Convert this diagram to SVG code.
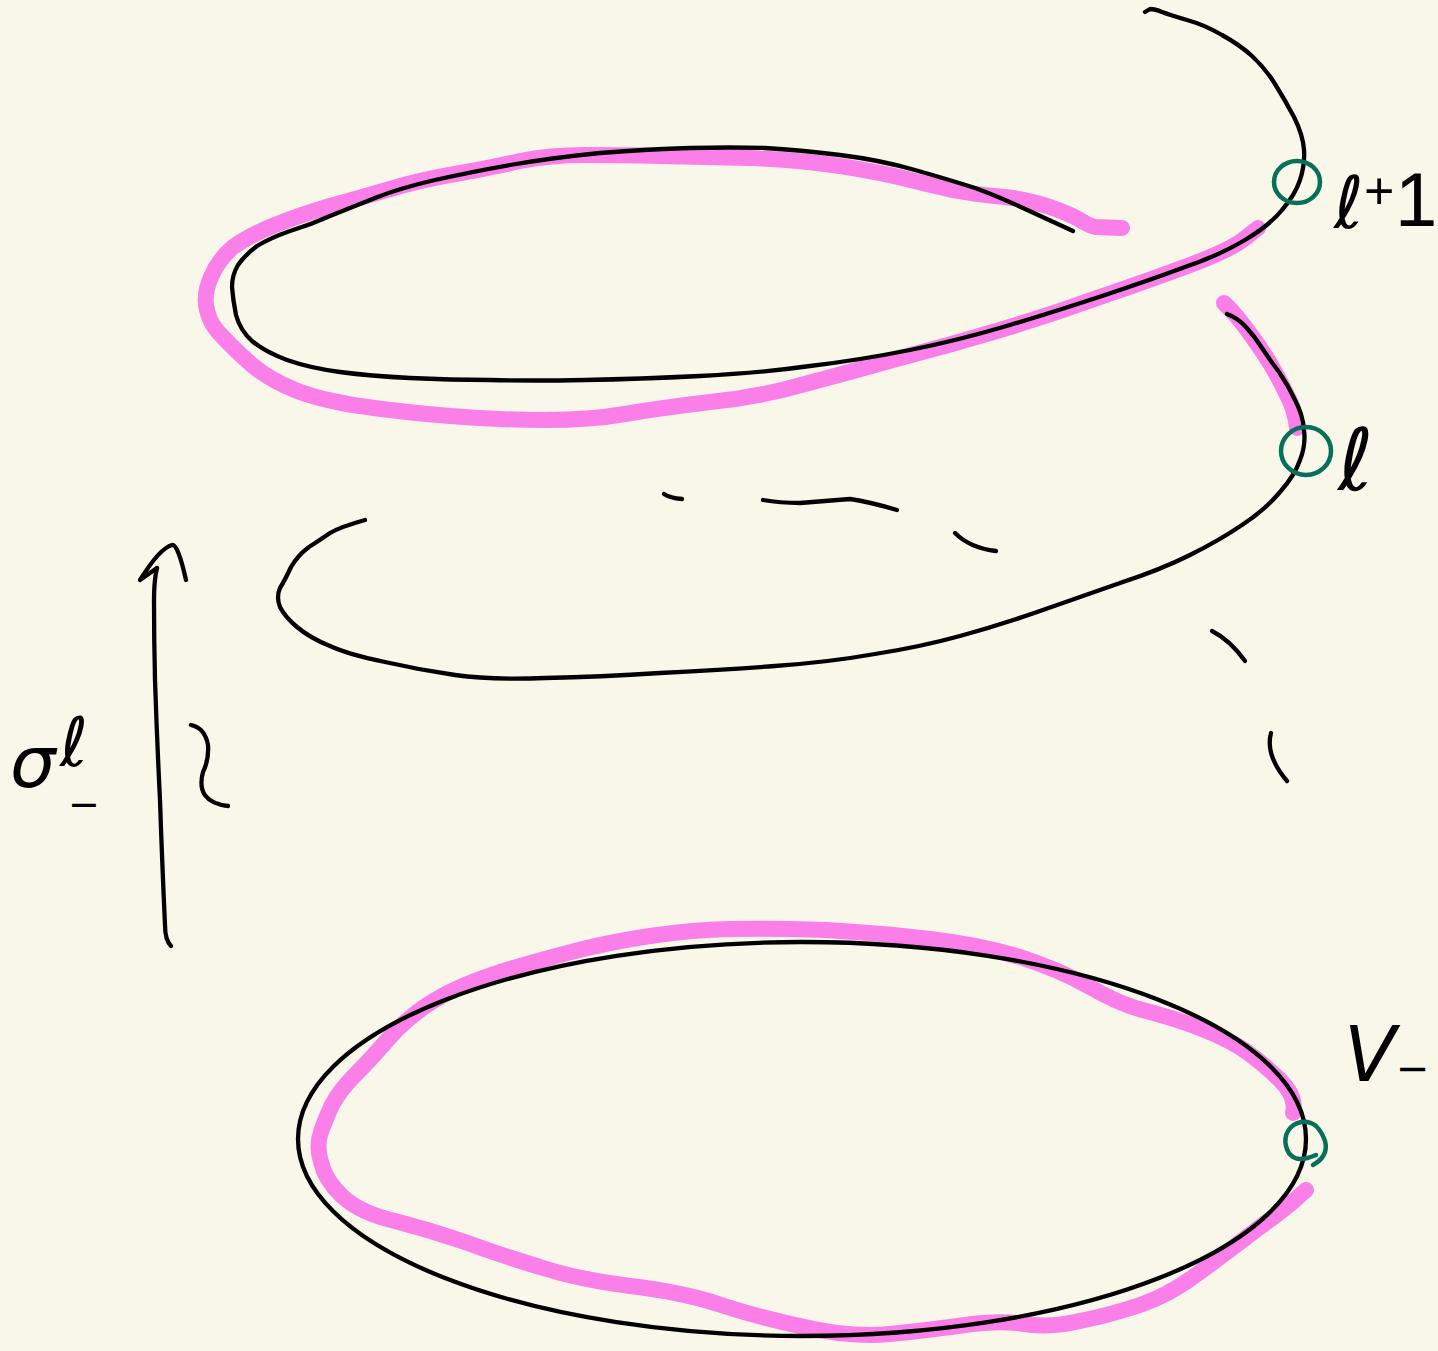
<svg xmlns="http://www.w3.org/2000/svg" width="1438" height="1351" viewBox="0 0 1438 1351">
<style>
path,ellipse{fill:none;stroke-linecap:round;stroke-linejoin:round}
.p{stroke:#fa7fe8;stroke-width:16}
.k{stroke:#000;stroke-width:4.3}
.g{stroke:#08705a;stroke-width:4.5}
text{font-family:"DejaVu Sans",sans-serif;fill:#000}
.s{font-family:"Liberation Sans",sans-serif}
</style>
<rect width="1438" height="1351" fill="#f9f7ea"/>
<g id="highlights">
<path class="p" d="M1122 228L1095 227Q1090 226 1080 220Q1070 214 1050 207Q1030 200 1005 197Q980 195 965 192Q950 190 915 181Q880 172 840 166Q800 160 750 158Q700 157 660 156Q620 155 585 155Q550 155 520 161Q490 168 455 174Q420 180 390 189Q360 198 330 206Q300 215 275 225Q250 235 233 247Q218 260 211 277Q203 295 207 310Q210 325 223 337Q235 350 252 365Q270 380 295 390Q320 400 360 406Q400 412 450 416Q500 420 545 420Q590 420 625 414Q660 408 710 402Q760 397 805 384Q850 372 900 358Q950 345 1000 330Q1050 315 1100 297Q1150 280 1190 265Q1230 250 1244 239L1258 228"/>
<path class="p" d="M1224 303L1232 311Q1240 320 1251 335Q1262 350 1271 365Q1280 380 1287 395Q1295 410 1297 428"/>
<path class="p" d="M1293 1113Q1297 1097 1280 1080Q1265 1065 1247 1052Q1230 1040 1205 1030Q1180 1020 1150 1012Q1120 1005 1090 987Q1060 970 1020 957Q980 945 930 939Q880 933 825 930Q770 928 730 929Q690 930 650 936Q610 942 575 951Q540 960 500 972Q460 985 435 1000Q410 1015 390 1037Q370 1060 355 1075Q340 1090 332 1105Q325 1120 321 1132Q316 1145 321 1162Q325 1180 342 1196Q360 1213 395 1221Q430 1230 465 1242Q500 1255 540 1267Q580 1280 630 1286Q680 1292 715 1303Q750 1315 800 1326Q850 1338 890 1334Q930 1330 965 1325Q1000 1320 1025 1324Q1050 1328 1080 1321Q1110 1315 1140 1305Q1170 1295 1200 1272Q1230 1250 1260 1227Q1290 1205 1298 1197L1306 1190"/>
</g>
<g id="curves">
<path class="k" d="M1073 231L1036 214Q1000 197 975 188Q950 180 915 170Q880 160 840 155Q800 150 765 148Q730 147 690 148Q650 149 600 153Q550 158 510 165Q470 172 435 180Q400 188 375 198Q350 208 330 216Q310 225 290 231Q270 238 257 246Q245 255 238 265Q232 275 232 287Q233 300 236 315Q240 330 252 341Q265 352 287 360Q310 368 340 372Q370 376 410 378Q450 380 490 380Q530 381 585 380Q640 379 700 376Q760 373 810 366Q860 360 910 350Q960 340 1010 325Q1060 310 1105 295Q1150 280 1185 267Q1220 255 1245 240Q1270 225 1282 210Q1295 195 1300 180Q1305 165 1304 150Q1303 135 1294 117Q1285 100 1275 84Q1265 68 1252 56Q1240 45 1222 35Q1205 25 1187 20Q1170 15 1162 12Q1155 9 1150 9L1145 12"/>
<path class="k" d="M1227 314Q1238 318 1246 327Q1255 337 1262 348Q1270 360 1279 372Q1288 385 1295 400Q1303 415 1304 430Q1306 445 1300 460Q1295 475 1280 492Q1265 510 1242 525Q1220 540 1190 555Q1160 570 1120 583Q1080 597 1040 611Q1000 625 960 636Q920 647 875 654Q830 662 775 666Q720 670 660 673Q600 677 545 678Q490 680 455 675Q420 670 385 662Q350 655 330 646Q310 638 297 627Q285 617 280 607Q276 597 280 588Q285 580 291 567Q298 555 309 547Q320 540 330 533Q340 527 365 520"/>
<path class="k" d="M664 494Q670 498 682 499"/>
<path class="k" d="M763 500Q780 503 800 503Q825 501 850 499Q870 502 897 510"/>
<path class="k" d="M955 533Q970 548 996 551"/>
<path class="k" d="M1212 631Q1230 640 1245 661"/>
<path class="k" d="M1271 733Q1265 755 1287 781"/>
<ellipse class="k" cx="802" cy="1139" rx="504" ry="197"/>
</g>
<g id="marks">
<ellipse class="g" cx="1297" cy="182" rx="23" ry="21"/>
<ellipse class="g" cx="1306" cy="451" rx="25" ry="24"/>
<path class="g" d="M1316 1155Q1302 1161 1295 1158Q1288 1155 1286 1146Q1284 1138 1288 1131Q1292 1124 1301 1122Q1310 1121 1316 1126Q1322 1132 1325 1141Q1329 1156 1313 1165"/>
</g>
<g id="arrow">
<path class="k" d="M171 946Q165 940 165 925Q162 860 160 800Q157 740 155 680Q154 640 154 600Q154 580 157 568"/>
<path class="k" d="M157 568L140 580Q160 548 172 545Q178 544 186 580"/>
<path class="k" d="M191 725Q205 728 208 745Q209 760 203 772Q195 802 228 806"/>
</g>
<g id="labels">
<text x="1334" y="228" font-size="72" font-style="italic">ℓ</text>
<text class="s" x="1364" y="209" font-size="52">+</text>
<text class="s" x="1395" y="226" font-size="76">1</text>
<text x="1338" y="490" font-size="86" font-style="italic">ℓ</text>
<text x="1344" y="1081" font-size="76" font-style="italic">V</text>
<text x="1396" y="1082" font-size="40">−</text>
<text x="10" y="787" font-size="72" font-style="italic">σ</text>
<text x="60" y="766" font-size="68" font-style="italic">ℓ</text>
<text x="68" y="817" font-size="38">−</text>
</g>
</svg>
